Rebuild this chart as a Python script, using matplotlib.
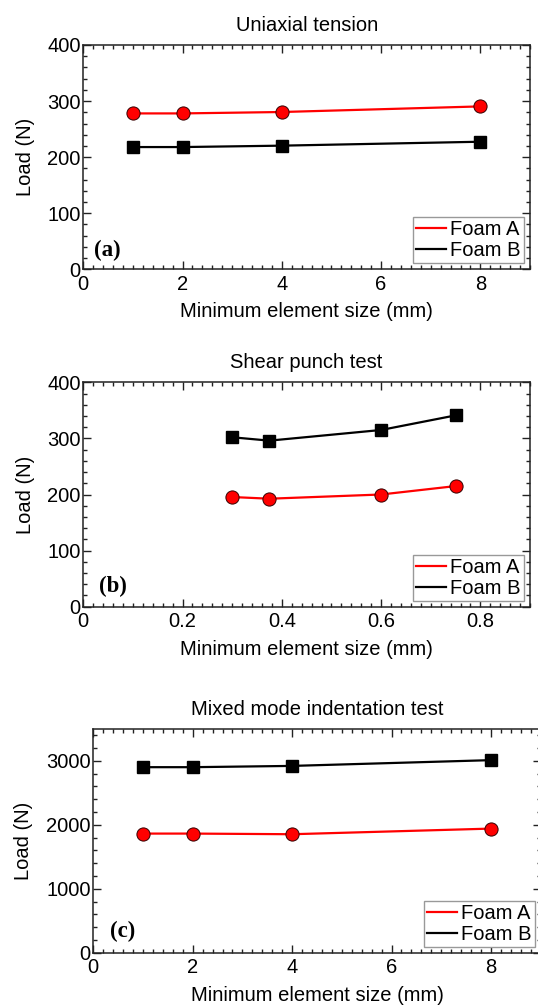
import matplotlib
matplotlib.use("Agg")
from matplotlib import pyplot as plt
from matplotlib.ticker import MultipleLocator

plt.rcParams['font.family'] = ['Liberation Sans', 'DejaVu Sans']
plt.rcParams['font.size'] = 14.5

# mesh sensitivity results
size_a = [1, 2, 4, 8]
foam_a_tension = [278, 278, 280.5, 290.5]
foam_b_tension = [218, 218, 220.5, 227.5]

size_b = [0.3, 0.375, 0.6, 0.75]
foam_a_shear = [195.5, 192.5, 200, 215]
foam_b_shear = [302, 296, 315, 341]

size_c = [1, 2, 4, 8]
foam_a_indent = [1862, 1862, 1852, 1940]
foam_b_indent = [2900, 2900, 2920, 3010]

titles = ["Uniaxial tension", "Shear punch test", "Mixed mode indentation test"]
panel_tags = ["(a)", "(b)", "(c)"]
xlabel = "Minimum element size (mm)"
ylabel = "Load (N)"

W, H = 538, 1007


def frac(left, right, top, bottom):
	return [left / W, 1 - bottom / H, (right - left) / W, (bottom - top) / H]


def style_axis(ax, xmaj, xmin, ymaj, ymin):
	ax.xaxis.set_major_locator(MultipleLocator(xmaj))
	ax.xaxis.set_minor_locator(MultipleLocator(xmin))
	ax.yaxis.set_major_locator(MultipleLocator(ymaj))
	ax.yaxis.set_minor_locator(MultipleLocator(ymin))
	ax.tick_params(which='both', direction='in', top=True, right=True, width=1.0, colors='#222222')
	ax.tick_params(which='major', length=6)
	ax.tick_params(which='minor', length=3)
	ax.tick_params(axis='x', which='major', pad=4, labelcolor='black')
	ax.tick_params(axis='y', which='major', pad=2, labelcolor='black')
	for s in ax.spines.values():
		s.set_linewidth(1.1)
		s.set_color('#222222')


def draw_panel(ax, x, fa, fb, title, tag, tagpos):
	ax.plot(x, fa, color='#ff0000', lw=1.6, marker='o', ms=9.5, mfc='#ff0000',
			mec='#330000', mew=0.7, label="Foam A", zorder=3)
	ax.plot(x, fb, color='black', lw=1.6, marker='s', ms=9, mfc='black',
			mec='black', label="Foam B", zorder=3)
	ax.set_title(title, fontsize=14.5, pad=10)
	ax.set_xlabel(xlabel, labelpad=6)
	ax.set_ylabel(ylabel, labelpad=9)
	ax.text(tagpos[0], tagpos[1], tag, transform=ax.transAxes, family=['Liberation Serif', 'DejaVu Serif'],
			fontweight='bold', fontsize=16.5, va='center', ha='left')
	leg = ax.legend(loc='lower right', handles=[
		plt.Line2D([], [], color='#ff0000', lw=1.6),
		plt.Line2D([], [], color='black', lw=1.6)], labels=["Foam A", "Foam B"],
		fancybox=False, framealpha=1, edgecolor='#999999', borderpad=0.15,
		handlelength=1.5, handletextpad=0.2, labelspacing=0.1, borderaxespad=0.3)
	leg.get_frame().set_linewidth(1.0)


fig = plt.figure(figsize=(W / 100, H / 100), dpi=100)

ax1 = fig.add_axes(frac(83.3, 530, 45, 269.3))
draw_panel(ax1, size_a, foam_a_tension, foam_b_tension, titles[0], panel_tags[0], (0.025, 0.085))
ax1.set_xlim(0, 9)
ax1.set_ylim(0, 400)
style_axis(ax1, 2, 0.2, 100, 20)

ax2 = fig.add_axes(frac(83.3, 530, 382.3, 606.7))
draw_panel(ax2, size_b, foam_a_shear, foam_b_shear, titles[1], panel_tags[1], (0.035, 0.09))
ax2.set_xlim(0, 0.9)
ax2.set_ylim(0, 400)
style_axis(ax2, 0.2, 0.02, 100, 20)
ax2.xaxis.set_major_formatter(plt.FuncFormatter(lambda v, p: "0" if abs(v) < 1e-9 else ("%g" % v)))

ax3 = fig.add_axes(frac(93.3, 540.6, 728.8, 952.7))
draw_panel(ax3, size_c, foam_a_indent, foam_b_indent, titles[2], panel_tags[2], (0.037, 0.095))
ax3.set_xlim(0, 9)
ax3.set_ylim(0, 3500)
style_axis(ax3, 2, 0.2, 1000, 200)

plt.savefig("out.png", dpi=100)
